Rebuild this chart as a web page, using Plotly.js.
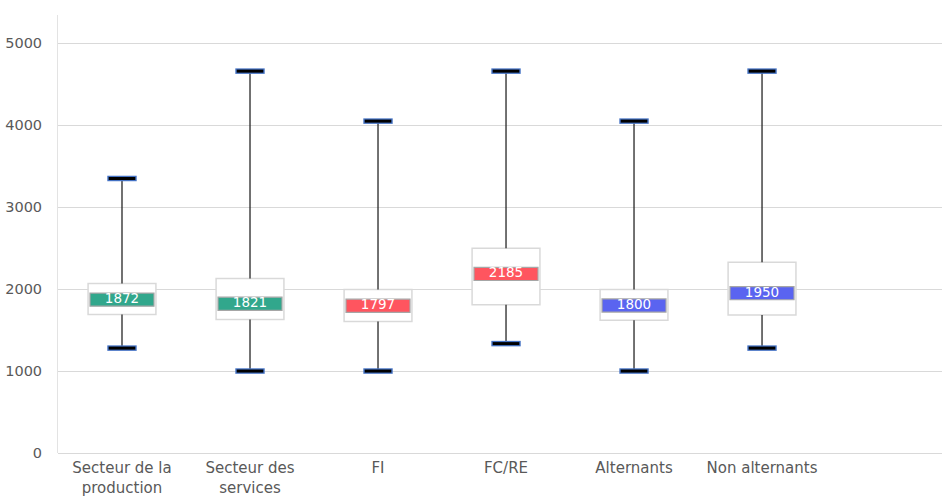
<!DOCTYPE html>
<html>
<head>
<meta charset="utf-8">
<script src="https://cdn.plot.ly/plotly-3.0.1.min.js"></script>
<style>html,body{margin:0;padding:0;background:#fff;}#chart{width:942px;height:500px;}</style>
</head>
<body>
<div id="chart"></div>
<script>
// Data
const categories = ["Secteur de la<br>production", "Secteur des<br>services", "FI", "FC/RE", "Alternants", "Non alternants"];
const minValues = [1280, 1000, 1000, 1335, 1000, 1280];
const q1Values = [1690, 1630, 1605, 1810, 1620, 1683];
const medianValues = [1872, 1821, 1797, 2185, 1800, 1950];
const q3Values = [2068, 2130, 1995, 2498, 1995, 2327];
const maxValues = [3350, 4660, 4050, 4660, 4050, 4660];
const bandColors = ["#31a78c", "#31a78c", "#ff555f", "#ff555f", "#5a64f0", "#5a64f0"];

const BAND_HALF = 80;

// whisker segments (Q3->max, Q1->min)
const wx = [], wy = [];
categories.forEach((c, i) => {
  wx.push(c, c, null, c, c, null);
  wy.push(q3Values[i], maxValues[i], null, q1Values[i], minValues[i], null);
});
const capX = categories.concat(categories);
const capY = maxValues.concat(minValues);

const FONT = "DejaVu Sans, Verdana, sans-serif";

const traces = [
  {
    type: "bar", x: categories,
    y: q3Values.map((v, i) => v - q1Values[i]),
    base: q1Values, width: 0.53,
    marker: {color: "#ffffff", line: {color: "#d9d9d9", width: 1.5}},
    hoverinfo: "skip", showlegend: false
  },
  {
    type: "bar", x: categories,
    y: medianValues.map(() => 2 * BAND_HALF),
    base: medianValues.map(v => v - BAND_HALF), width: 0.5,
    marker: {color: bandColors, line: {color: "#a6a6a6", width: 1.2}},
    hoverinfo: "skip", showlegend: false
  },
  {
    type: "scatter", mode: "lines", x: wx, y: wy,
    line: {color: "#262626", width: 1.3},
    hoverinfo: "skip", showlegend: false, connectgaps: false
  },
  {
    type: "scatter", mode: "markers", x: capX, y: capY,
    marker: {symbol: "line-ew", size: 21, line: {color: "#4472c4", width: 5.5}},
    hoverinfo: "skip", showlegend: false, cliponaxis: false
  },
  {
    type: "scatter", mode: "markers", x: capX, y: capY,
    marker: {symbol: "line-ew", size: 19, line: {color: "#000000", width: 3}},
    hoverinfo: "skip", showlegend: false, cliponaxis: false
  },
  {
    type: "scatter", mode: "text", x: categories, y: medianValues,
    text: medianValues.map(String), textposition: "middle center",
    textfont: {color: "#ffffff", size: 13.5, family: FONT},
    hoverinfo: "skip", showlegend: false
  }
];

const layout = {
  width: 942, height: 500,
  margin: {l: 58, r: 0, t: 15, b: 47, pad: 0},
  paper_bgcolor: "#ffffff", plot_bgcolor: "#ffffff",
  font: {family: FONT, size: 15, color: "#595959"},
  barmode: "overlay",
  showlegend: false,
  xaxis: {
    type: "category", range: [-0.5, 6.406],
    showgrid: false, zeroline: false, showline: false,
    ticks: "", ticklabelstandoff: 4, tickfont: {size: 15, color: "#595959"}, fixedrange: true
  },
  yaxis: {
    range: [0, 5345], tickvals: [0, 1000, 2000, 3000, 4000, 5000],
    showgrid: true, gridcolor: "#d9d9d9", gridwidth: 1,
    zeroline: true, zerolinecolor: "#d9d9d9", zerolinewidth: 1,
    showline: true, linecolor: "#e3e3e3", linewidth: 1,
    ticks: "", ticklabelstandoff: 12, tickfont: {size: 14.5, color: "#595959"}, fixedrange: true
  }
};

Plotly.newPlot("chart", traces, layout, {displayModeBar: false, staticPlot: true});
</script>
</body>
</html>
